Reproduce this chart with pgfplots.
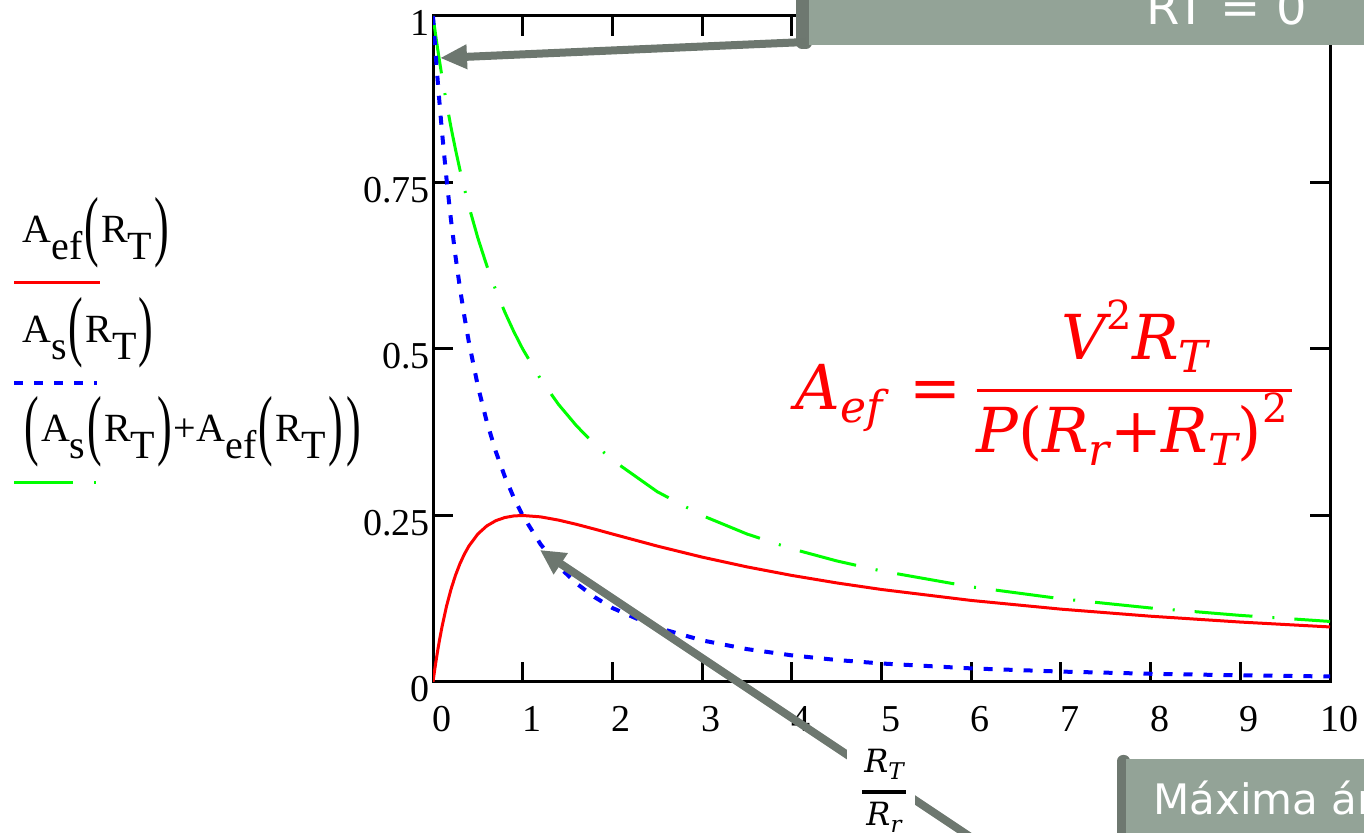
\documentclass[border=0pt]{standalone}
\usepackage{fontspec}
\setmainfont{Liberation Serif}
\newfontfamily\eqfont{DejaVu Serif}
\newfontfamily\boxfont{DejaVu Sans}
\usepackage{graphicx}
\usepackage{pgfplots}
\pgfplotsset{compat=1.18}
\usepackage{pgfplotstable}
\usetikzlibrary{arrows.meta}

\definecolor{boxfill}{HTML}{93A397}
\definecolor{boxedge}{HTML}{6E7870}
\definecolor{arrowgray}{HTML}{6D776F}

% tall Mathcad-style parentheses and lowered subscripts
\newcommand{\bp}[1]{\kern1pt\raisebox{-4.5pt}{\scalebox{1.1}[1.95]{#1}}\kern1pt}
\newcommand{\lo}[1]{\raisebox{-8.5pt}{#1}}
\newcommand{\esub}[1]{\raisebox{-6.5pt}{\fontsize{22}{22}\selectfont #1}}
\newcommand{\esup}[1]{\raisebox{15pt}{\upshape\fontsize{20}{20}\selectfont #1}}

% x = R_T/R_r ; ef = A_ef ; s = A_s ; sum = A_s + A_ef
\pgfplotstableread{
x     ef      s       sum
0     0       1       1
0.01  0.0098  0.98030 0.99010
0.02  0.01922 0.96117 0.98039
0.03  0.02828 0.94260 0.97087
0.05  0.04535 0.90703 0.95238
0.07  0.06114 0.87344 0.93458
0.1   0.08264 0.82645 0.90909
0.15  0.11342 0.75614 0.86957
0.2   0.13889 0.69444 0.83333
0.25  0.16    0.64    0.8
0.3   0.17751 0.59172 0.76923
0.35  0.19204 0.54870 0.74074
0.4   0.20408 0.51020 0.71429
0.5   0.22222 0.44444 0.66667
0.6   0.23438 0.39063 0.625
0.7   0.24221 0.34602 0.58824
0.8   0.24691 0.30864 0.55556
0.9   0.24931 0.27701 0.52632
1     0.25    0.25    0.5
1.2   0.24793 0.20661 0.45455
1.4   0.24306 0.17361 0.41667
1.6   0.23669 0.14793 0.38462
1.8   0.22959 0.12755 0.35714
2     0.22222 0.11111 0.33333
2.5   0.20408 0.08163 0.28571
3     0.1875  0.0625  0.25
3.5   0.17284 0.04938 0.22222
4     0.16    0.04    0.2
4.5   0.14876 0.03306 0.18182
5     0.13889 0.02778 0.16667
6     0.12245 0.02041 0.14286
7     0.10938 0.01563 0.125
8     0.09877 0.01235 0.11111
9     0.09    0.01    0.1
10    0.08264 0.00826 0.09091
}\data

\begin{document}
\begin{tikzpicture}
\useasboundingbox (0,0) rectangle (682pt,416.5pt);
\clip (0,0) rectangle (682pt,416.5pt);
\begin{axis}[
    at={(216.5pt,75.5pt)}, anchor=south west,
    scale only axis, width=448.5pt, height=333pt,
    xmin=0, xmax=10, ymin=0, ymax=1,
    xtick={0,1,...,10},
    ytick={0,0.25,0.5,0.75,1},
    yticklabels={0,0.25,0.5,0.75,1},
    tick align=inside,
    xtick pos=both, ytick pos=both,
    xticklabel pos=lower, yticklabel pos=left,
    major tick length=10pt,
    axis line style={black, line width=1.5pt},
    tick style={black, line width=1.5pt},
    /pgf/number format/assume math mode=true,
    tick label style={font=\fontsize{19}{20}\selectfont},
    xticklabel style={anchor=base, inner sep=0pt, yshift=-25pt, xshift=4.5pt},
    yticklabel style={anchor=base east, inner sep=0pt, xshift=-1.5pt, yshift=-10pt},
]
\addplot[green, line width=1.5pt, dash pattern=on 29pt off 10pt on 1pt off 10pt] table[x=x, y=sum] {\data};
\addplot[blue, line width=2pt, dash pattern=on 4.5pt off 5.5pt] table[x=x, y=s] {\data};
\addplot[red, line width=1.5pt] table[x=x, y=ef] {\data};
\end{axis}

\begin{scope}[x=0.5pt, y=-0.5pt, yshift=416.5pt]
  % legend
  \node[anchor=base west, inner sep=0, font=\fontsize{20}{20}\selectfont] at (22,243)
    {A\lo{ef}\bp{(}R\lo{T}\bp{)}};
  \draw[red, line width=1.5pt] (14,283) -- (100,283);
  \node[anchor=base west, inner sep=0, font=\fontsize{20}{20}\selectfont] at (22,343)
    {A\lo{s}\bp{(}R\lo{T}\bp{)}};
  \draw[blue, line width=2pt, dash pattern=on 4.5pt off 5.5pt] (14,383) -- (97,383);
  \node[anchor=base west, inner sep=0, font=\fontsize{20}{20}\selectfont] at (22,442)
    {\bp{(}A\lo{s}\bp{(}R\lo{T}\bp{)}+A\lo{ef}\bp{(}R\lo{T}\bp{)}\bp{)}};
  \draw[green, line width=1.5pt, dash pattern=on 29.5pt off 10.5pt on 1pt off 10pt] (14,483) -- (97,483);

  % equation
  \node[anchor=base west, inner sep=0, red, font=\eqfont\itshape\fontsize{31}{31}\selectfont] at (795,410)
    {A\esub{ef}};
  \node[anchor=base, inner sep=0, red, font=\eqfont\fontsize{31}{31}\selectfont] at (935,410) {=};
  \draw[red, line width=1.5pt] (977,391) -- (1292,391);
  \node[anchor=base, inner sep=0, red, font=\eqfont\itshape\fontsize{31}{31}\selectfont] at (1135,360)
    {V\esup{2}R\esub{T}};
  \node[anchor=base, inner sep=0, red, font=\eqfont\itshape\fontsize{31}{31}\selectfont] at (1132,453)
    {P{\upshape(}R\esub{r}{\upshape+}R\esub{T}{\upshape)}\esup{2}};

  % top callout
  \fill[boxedge, rounded corners=3pt] (796,-20) rectangle (812,49);
  \fill[boxfill] (809,-20) rectangle (1380,45);
  \node[anchor=base west, inner sep=0, text=white, font=\boxfont\fontsize{24}{24}\selectfont] at (1146,25) {RT = 0};
  \draw[arrowgray, line width=4pt, -{Triangle[length=13.5pt,width=11.5pt]}] (806,42) -- (440,58);

  % bottom callout
  \fill[boxedge, rounded corners=3pt] (1117,755) rectangle (1130,860);
  \fill[boxfill] (1126,759) rectangle (1380,860);
  \node[anchor=base west, inner sep=0, text=white, font=\boxfont\fontsize{21}{21}\selectfont] at (1153,815) {Máxima área};
  \draw[arrowgray, line width=4pt, -{Triangle[length=12.5pt,width=12pt]}] (1005,860) -- (540,550);

  % x-axis quantity
  \fill[white] (847,748) rectangle (915,850);
  \node[anchor=base, inner sep=0, font=\eqfont\itshape\fontsize{16}{16}\selectfont] at (884,773)
    {R\raisebox{-3.5pt}{\fontsize{11.5}{11.5}\selectfont T}};
  \draw[line width=2pt] (862,792) -- (906,792);
  \node[anchor=base, inner sep=0, font=\eqfont\itshape\fontsize{16}{16}\selectfont] at (884,826)
    {R\raisebox{-3.5pt}{\fontsize{11.5}{11.5}\selectfont r}};
\end{scope}
\end{tikzpicture}
\end{document}
